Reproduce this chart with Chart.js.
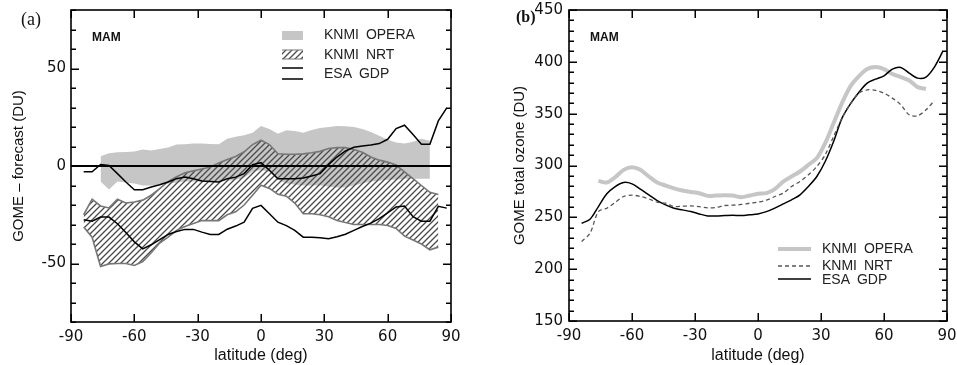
<!DOCTYPE html>
<html>
<head>
<meta charset="utf-8">
<script src="https://cdn.jsdelivr.net/npm/chart.js@4.4.1/dist/chart.umd.min.js"></script>
<style>
  html, body { margin: 0; padding: 0; background: #fff; }
  #wrap { position: relative; width: 957px; height: 365px; overflow: hidden; }
  #chartA { position: absolute; left: 0; top: 0; }
  #chartB { position: absolute; left: 480px; top: 0; }
</style>
</head>
<body>
<div id="wrap">
  <canvas id="chartA" width="480" height="365"></canvas>
  <canvas id="chartB" width="477" height="365"></canvas>
</div>
<script>
// latitude grid (deg)
const lat = [-84, -80, -76, -72, -68, -64, -60, -56, -52, -48, -44, -40, -36, -32, -28, -24, -20, -16, -12, -8, -4,
             0, 4, 8, 12, 16, 20, 24, 28, 32, 36, 40, 44, 48, 52, 56, 60, 64, 68, 72, 76, 80, 84, 88];
const xTicks = [-90, -60, -30, 0, 30, 60, 90];

// (a) GOME - forecast (DU)
const esaUpperA = [-3, -3, 0.8, 0.3, -3.9, -8.2, -12.2, -12.2, -10.8, -9.6, -8.2, -6.5, -5.7, -6.5, -7.7, -7.9, -8.2, -6.5, -5.7, -3.9, 0.7,
                   1.7, -2.2, -6.5, -6.5, -6.5, -6.2, -5.1, -3.9, 0.7, 4.6, 7.7, 9.6, 10.3, 10.8, 11.5, 13.7, 19.2, 20.9, 16.1, 11.1, 11.1, 23.1, 29.8];
const esaLowerA = [-27.6, -28.3, -26.2, -26.2, -29.6, -34.1, -38.9, -42.5, -40.4, -37.8, -35.1, -33.6, -32.5, -32.5, -33.9, -35.1, -35.1, -32.4, -30.8, -28.8, -21.7,
                   -20.2, -24.5, -28.8, -30.6, -33, -36.5, -36.5, -36.8, -37.3, -36.3, -35, -33, -31, -29.3, -27, -24, -21, -20.5, -26, -28.3, -28.3, -20.7, -21.6];
const nrtUpperA = [-25, -17, -20.5, -21.5, -17, -19, -18.5, -17.5, -15, -11.6, -8, -5.5, -3.5, -2.5, -1.5, -0.5, 1.5, 3.3, 4.9, 7.3, 11,
                   13.2, 11, 6.3, 6, 6, 6.2, 6.8, 7.5, 9, 9.4, 9.4, 8.5, 7, 4.6, 3, 2, 0.5, -3, -6.5, -10, -13.5, -14.6, null];
const nrtLowerA = [-31.3, -36.5, -51.5, -50.2, -50, -50, -51, -49, -44.5, -39.5, -36.5, -33, -31, -29.5, -28, -28, -28, -25, -23.5, -20, -15,
                   -9.9, -11.5, -14.5, -15.5, -19, -24.5, -24.5, -25, -26, -28, -29, -30, -30, -30, -30, -30.5, -32, -36, -38, -40, -43, -41.6, null];
const operaUpperA = [null, null, 5, 6.5, 7, 7.2, 7.5, 8.4, 8, 8.7, 9.5, 11, 11.2, 11.5, 11.5, 11.3, 11.2, 14, 15, 15.8, 17,
                     20.5, 19, 16.6, 18.3, 18, 17, 18.5, 19.5, 20, 20.5, 20.4, 20, 19, 17.5, 15.5, 13.5, 12, 11.5, 12.5, 14, 13, null, null];
const operaLowerA = [null, null, -8, -12, -8, -8.5, -9, -10, -10, -9.5, -9, -8.5, -8, -8, -8, -8, -8, -7.5, -7, -6, -3,
                     -2, -3, -7, -9, -9.5, -10, -10, -10, -10.5, -11, -11, -10, -9, -8, -7.5, -7, -7, -6.5, -6.5, -6.5, -6.5, null, null];

// (b) GOME total ozone (DU)
const esaB = [244.3, 248.2, 260.4, 272.7, 279.7, 283.6, 282.3, 277.2, 271.7, 266.2, 262, 258.8, 257.2, 255.6, 253.3, 251.4, 251.4, 251.7, 252, 251.7, 252.4,
              253.3, 255.5, 258.9, 263, 266.9, 271.7, 279.8, 289.4, 303.9, 323.2, 345.7, 359.5, 370.5, 379.5, 383.3, 386.5, 393, 394.6, 389.1, 384.3, 385.3, 394.9, 410];
const nrtB = [226.6, 234.7, 255.6, 258.8, 264.3, 270.1, 271.4, 270.1, 267.8, 264.6, 263.6, 260.4, 260.7, 261, 260.4, 259.1, 259.5, 261.4, 261.7, 262.4, 263.6,
              264.6, 266.5, 270.1, 273.3, 279.8, 284.6, 291, 299, 310.3, 328, 345.7, 359.5, 369.8, 373, 372.4, 369.8, 365, 358.6, 348.9, 347.9, 353.7, 362.7, null];
const operaB = [null, null, 285.2, 283.6, 288.7, 295.8, 298.4, 295.8, 289.4, 283.6, 280.7, 278, 275.9, 274.5, 273.3, 270.7, 271, 271.4, 271, 269.4, 271,
                272.7, 273.3, 277.2, 284.5, 289.4, 294.2, 300.6, 307.1, 321.6, 340.9, 360.2, 376.3, 385.9, 393, 394.9, 393, 388.2, 385.3, 382, 375.6, 374, null, null];

const GREY = '#c6c6c6';
const tickFont = { family: 'DejaVu Sans', size: 15 };
const xTitleFont = { family: 'Liberation Sans', size: 16 };
const yTitleFont = { family: 'Liberation Sans', size: 15 };

function pts(vals) {
    return lat.map((l, i) => ({ x: l, y: vals[i] })).filter(p => p.y !== null);
}

// diagonal hatch for KNMI NRT
const pc = document.createElement('canvas');
pc.width = 6; pc.height = 6;
const pg = pc.getContext('2d');
pg.strokeStyle = '#4a4a4a';
pg.lineWidth = 1.3;
pg.beginPath();
pg.moveTo(0, 6); pg.lineTo(6, 0);
pg.moveTo(-1, 1); pg.lineTo(1, -1);
pg.moveTo(5, 7); pg.lineTo(7, 5);
pg.stroke();
const hatch = pg.createPattern(pc, 'repeat');

// box + inward ticks, IDL style (called from each panel's afterDraw)
function drawFrame(chart) {
    const ctx = chart.ctx;
    const a = chart.chartArea;
    const xs = chart.scales.x, ys = chart.scales.y;
    ctx.save();
    ctx.globalAlpha = 1;
    ctx.globalCompositeOperation = 'source-over';
    ctx.setLineDash([]);
    ctx.strokeStyle = '#000';
    ctx.lineWidth = 1.6;
    ctx.strokeRect(a.left, a.top, a.right - a.left, a.bottom - a.top);
    ctx.lineWidth = 1.5;
    ctx.beginPath();
    xTicks.forEach(v => {
        const px = Math.round(xs.getPixelForValue(v)) + 0.25;
        ctx.moveTo(px, a.bottom);
        ctx.lineTo(px, a.bottom - 8);
        ctx.moveTo(px, a.top);
        ctx.lineTo(px, a.top + 8);
    });
    for (let v = ys.min; v <= ys.max; v += 10) {
        const py = Math.round(ys.getPixelForValue(v)) + 0.25;
        const len = v % 50 === 0 ? 8 : 5;
        ctx.moveTo(a.left, py);
        ctx.lineTo(a.left + len, py);
        ctx.moveTo(a.right, py);
        ctx.lineTo(a.right - len, py);
    }
    ctx.stroke();
    ctx.restore();
}

function scalesFor(ymin, ymax, yWidth, xHeight, yTitle, yTitlePad, yPad) {
    return {
        x: {
            type: 'linear', min: -90, max: 90,
            afterFit: s => { s.height = xHeight; s.paddingLeft = 0; s.paddingRight = 0; },
            afterBuildTicks: s => { s.ticks = xTicks.map(v => ({ value: v })); },
            grid: { display: false, drawTicks: false },
            border: { display: false },
            ticks: { padding: 6, color: '#111', font: tickFont, maxRotation: 0 },
            title: { display: true, text: 'latitude (deg)', color: '#111', font: xTitleFont, padding: 0 }
        },
        y: {
            min: ymin, max: ymax,
            afterFit: s => { s.width = yWidth; s.paddingTop = 0; s.paddingBottom = 0; },
            grid: { display: false, drawTicks: false },
            border: { display: false },
            ticks: {
                stepSize: 10, autoSkip: false, padding: yPad, color: '#111', font: tickFont,
                callback: v => Math.round(v) % 50 === 0 ? String(Math.round(v)) : ''
            },
            title: { display: true, text: yTitle, color: '#111', font: yTitleFont, padding: { top: yTitlePad, bottom: 0 } }
        }
    };
}

// ---------- panel (a) ----------
const decorA = {
    id: 'decorA',
    afterDatasetsDraw(chart) {
        const { ctx, chartArea: a, scales: { y } } = chart;
        const y0 = y.getPixelForValue(0);
        ctx.save();
        ctx.strokeStyle = '#000';
        ctx.lineWidth = 2;
        ctx.beginPath();
        ctx.moveTo(a.left, y0); ctx.lineTo(a.right, y0);
        ctx.stroke();
        ctx.restore();
    },
    afterDraw(chart) {
        drawFrame(chart);
        const ctx = chart.ctx;
        ctx.save();
        ctx.fillStyle = '#111';
        ctx.textBaseline = 'middle';
        ctx.font = '18px "Liberation Serif"';
        ctx.fillText('(a)', 21, 20);
        ctx.font = 'bold 12px "Liberation Sans"';
        ctx.fillText('MAM', 92, 38);

        // legend
        ctx.fillStyle = GREY;
        ctx.fillRect(282, 31, 21, 9);
        ctx.fillStyle = hatch;
        ctx.fillRect(282, 50, 21, 9);
        ctx.strokeStyle = '#777';
        ctx.lineWidth = 1.2;
        ctx.beginPath();
        ctx.moveTo(282, 50); ctx.lineTo(303, 50);
        ctx.moveTo(282, 59); ctx.lineTo(303, 59);
        ctx.stroke();
        ctx.strokeStyle = '#000';
        ctx.lineWidth = 1.5;
        ctx.beginPath();
        ctx.moveTo(282, 68); ctx.lineTo(303, 68);
        ctx.moveTo(282, 79); ctx.lineTo(303, 79);
        ctx.stroke();
        ctx.fillStyle = '#222';
        ctx.font = '14px "Liberation Sans"';
        ctx.wordSpacing = '3px';
        ctx.fillText('KNMI OPERA', 324, 35);
        ctx.fillText('KNMI NRT', 324, 55);
        ctx.fillText('ESA GDP', 324, 74);
        ctx.restore();
    }
};

new Chart(document.getElementById('chartA'), {
    type: 'line',
    data: {
        datasets: [
            { label: 'ESA GDP', data: pts(esaUpperA), borderColor: '#000', borderWidth: 1.5, fill: false },
            { label: 'ESA GDP low', data: pts(esaLowerA), borderColor: '#000', borderWidth: 1.5, fill: false },
            { label: 'KNMI NRT low', data: pts(nrtLowerA), borderColor: '#777', borderWidth: 1.6, fill: false },
            { label: 'KNMI NRT', data: pts(nrtUpperA), borderColor: '#777', borderWidth: 1.6, fill: '-1', backgroundColor: hatch },
            { label: 'KNMI OPERA low', data: pts(operaLowerA), borderWidth: 0, borderColor: 'rgba(0,0,0,0)', fill: false },
            { label: 'KNMI OPERA', data: pts(operaUpperA), borderWidth: 0, borderColor: 'rgba(0,0,0,0)', fill: '-1', backgroundColor: GREY }
        ]
    },
    options: {
        responsive: false,
        animation: false,
        events: [],
        elements: { point: { radius: 0 }, line: { tension: 0 } },
        layout: { padding: { left: 0, right: 29, top: 10, bottom: 0 } },
        plugins: { legend: { display: false }, tooltip: { enabled: false } },
        scales: scalesFor(-80, 80, 71, 43, 'GOME \u2013 forecast (DU)', 10, 5)
    },
    plugins: [decorA]
});

// ---------- panel (b) ----------
const decorB = {
    id: 'decorB',
    afterDraw(chart) {
        drawFrame(chart);
        const ctx = chart.ctx;
        ctx.save();
        ctx.fillStyle = '#111';
        ctx.textBaseline = 'middle';
        ctx.font = 'bold 16px "Liberation Serif"';
        ctx.fillText('(b)', 36, 18);
        ctx.font = 'bold 12px "Liberation Sans"';
        ctx.fillText('MAM', 110, 38);

        // legend
        ctx.lineWidth = 4;
        ctx.strokeStyle = GREY;
        ctx.beginPath(); ctx.moveTo(298, 249); ctx.lineTo(331, 249); ctx.stroke();
        ctx.lineWidth = 1.3;
        ctx.strokeStyle = '#555';
        ctx.setLineDash([4, 3]);
        ctx.beginPath(); ctx.moveTo(298, 266); ctx.lineTo(331, 266); ctx.stroke();
        ctx.setLineDash([]);
        ctx.lineWidth = 1.5;
        ctx.strokeStyle = '#000';
        ctx.beginPath(); ctx.moveTo(298, 279); ctx.lineTo(331, 279); ctx.stroke();
        ctx.fillStyle = '#222';
        ctx.font = '14px "Liberation Sans"';
        ctx.wordSpacing = '3px';
        ctx.fillText('KNMI OPERA', 342, 249);
        ctx.fillText('KNMI NRT', 342, 266);
        ctx.fillText('ESA GDP', 342, 280);
        ctx.restore();
    }
};

new Chart(document.getElementById('chartB'), {
    type: 'line',
    data: {
        datasets: [
            { label: 'KNMI NRT', data: pts(nrtB), borderColor: '#555', borderWidth: 1.3, borderDash: [4, 3], fill: false },
            { label: 'ESA GDP', data: pts(esaB), borderColor: '#000', borderWidth: 1.5, fill: false },
            { label: 'KNMI OPERA', data: pts(operaB), borderColor: GREY, borderWidth: 4, fill: false }
        ]
    },
    options: {
        responsive: false,
        animation: false,
        events: [],
        elements: { point: { radius: 0 }, line: { tension: 0.3 } },
        layout: { padding: { left: 0, right: 10, top: 10, bottom: 0 } },
        plugins: { legend: { display: false }, tooltip: { enabled: false } },
        scales: scalesFor(150, 450, 89, 44, 'GOME total ozone (DU)', 31, 6)
    },
    plugins: [decorB]
});
</script>
</body>
</html>
